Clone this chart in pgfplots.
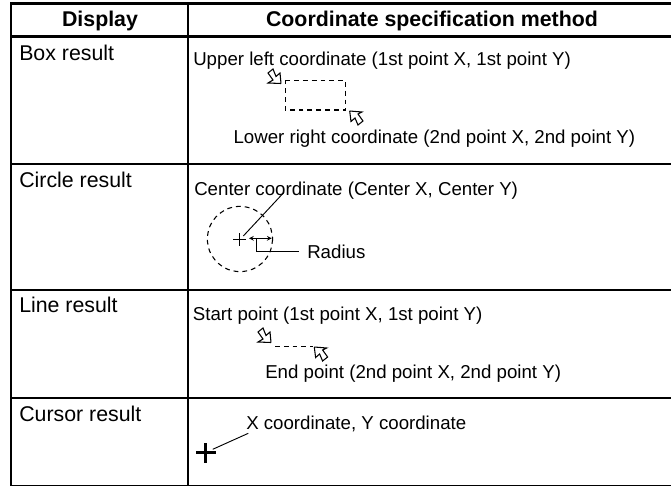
\documentclass[border=0pt]{standalone}
\usepackage{pgfplots}
\pgfplotsset{compat=1.18}
\usepackage{fontspec}
\setmainfont{Liberation Sans}
\begin{document}
\begin{tikzpicture}
\useasboundingbox (0,0) rectangle (503.25pt,364.5pt);
\begin{axis}[
  anchor=south west, at={(0pt,0pt)},
  width=503.25pt, height=364.5pt, scale only axis,
  xmin=0, xmax=671, ymin=0, ymax=486, y dir=reverse,
  hide axis, clip=true,
  every axis plot/.append style={black, no markers, line width=0.6pt},
]
% table rules
\addplot[line width=2.2pt] coordinates {(11,2) (11,486)};
\addplot[line width=1.5pt] coordinates {(187.7,2) (187.7,486)};
\addplot[line width=2.2pt] coordinates {(10,3.3) (671,3.3)};
\addplot[line width=2.2pt] coordinates {(10,36.7) (671,36.7)};
\addplot[line width=1.5pt] coordinates {(10,164) (671,164)};
\addplot[line width=1.5pt] coordinates {(10,290) (671,290)};
\addplot[line width=1.7pt] coordinates {(10,397.7) (671,397.7)};
\addplot[line width=1.3pt] coordinates {(10,485.5) (671,485.5)};
% box result
\addplot[dash pattern=on 3.6pt off 3pt, line width=0.8pt] coordinates {(285.3,80.7) (345.7,80.7) (345.7,110) (285.3,110) (285.3,80.7)};
\addplot[fill=white, line width=0.8pt] coordinates {(281,83.5) (280,73) (276,76.5) (273,69) (268,73) (273,80) (268,83) (281,83.5)};
\addplot[fill=white, line width=0.8pt] coordinates {(349.7,111) (351,121.5) (355,118) (358,125) (363,121) (358,114) (362,112) (349.7,111)};
% circle result
\addplot[smooth, dash pattern=on 3.6pt off 3pt, line width=0.8pt] coordinates {(272.7,239) (270.2,251.5) (263.1,262.1) (252.5,269.2) (240,271.7) (227.5,269.2) (216.9,262.1) (209.8,251.5) (207.3,239) (209.8,226.5) (216.9,215.9) (227.5,208.8) (240,206.3) (252.5,208.8) (263.1,215.9) (270.2,226.5) (272.7,239)};
\addplot[line width=1pt] coordinates {(233.3,239.5) (245.5,239.5)};
\addplot[line width=1pt] coordinates {(239.3,233) (239.3,246)};
\addplot[line width=0.7pt] coordinates {(243.3,236) (284,192.3)};
\addplot[line width=0.6pt, <->, >=stealth] coordinates {(249,238.3) (271.7,238.3)};
\addplot[line width=0.7pt] coordinates {(256.7,238.3) (256.7,251.7) (299.3,251.7)};
% line result
\addplot[dash pattern=on 3.6pt off 3pt, line width=0.7pt] coordinates {(275,346) (313,346)};
\addplot[fill=white, line width=0.8pt] coordinates {(271,342.5) (270,332) (266,335.5) (263,328) (258,332) (263,339) (258,342) (271,342.5)};
\addplot[fill=white, line width=0.8pt] coordinates {(314.3,347) (315.6,357.5) (319.6,354) (322.6,361) (327.6,357) (322.6,350) (326.6,348) (314.3,347)};
% cursor result
\addplot[line width=2pt] coordinates {(196,452.7) (216,452.7)};
\addplot[line width=2pt] coordinates {(205.7,443) (205.7,463)};
\addplot[line width=0.7pt] coordinates {(212.7,449.3) (248.3,433.3)};
% text
\tikzset{h/.style={font=\fontsize{16}{18}\selectfont\bfseries, anchor=base, inner sep=0pt},
  t/.style={font=\fontsize{16}{18}\selectfont, anchor=base west, inner sep=0pt},
  s/.style={font=\fontsize{14}{16}\selectfont, anchor=base west, inner sep=0pt}}
\node[h] at (axis cs:100,26.7) {Display};
\node[h] at (axis cs:432,26.7) {Coordinate specification method};
\node[t] at (axis cs:19,60) {Box result};
\node[t] at (axis cs:19,187.3) {Circle result};
\node[t] at (axis cs:19,312.3) {Line result};
\node[t] at (axis cs:19,421.7) {Cursor result};
\node[s] at (axis cs:193,65.7) {Upper left coordinate (1st point X, 1st point Y)};
\node[s] at (axis cs:233.3,143.3) {Lower right coordinate (2nd point X, 2nd point Y)};
\node[s] at (axis cs:194,195) {Center coordinate (Center X, Center Y)};
\node[s] at (axis cs:307,258) {Radius};
\node[s] at (axis cs:192.7,320) {Start point (1st point X, 1st point Y)};
\node[s] at (axis cs:265,378) {End point (2nd point X, 2nd point Y)};
\node[s] at (axis cs:246,429) {X coordinate, Y coordinate};
\end{axis}
\end{tikzpicture}
\end{document}
